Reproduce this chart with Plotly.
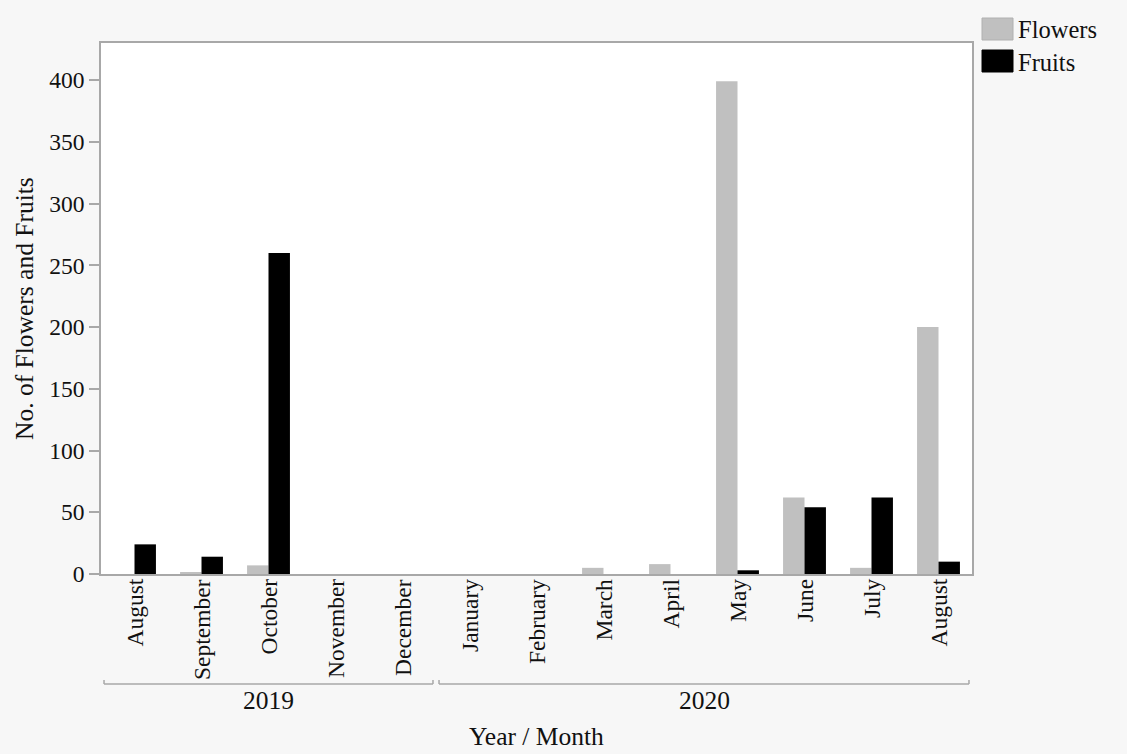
import plotly.graph_objects as go

# Monthly counts, August 2019 - August 2020
years = ["2019"] * 5 + ["2020"] * 8
months = ["August", "September", "October", "November", "December",
          "January", "February", "March", "April", "May", "June", "July", "August"]
flowers = [0, 1, 7, 0, 0, 0, 0, 5, 8, 399, 62, 5, 200]
fruits = [24, 14, 260, 0, 0, 0, 0, 0, 0, 3, 54, 62, 10]
y_ticks = [0, 50, 100, 150, 200, 250, 300, 350, 400]

series_names = ["Flowers", "Fruits"]
series_colors = ["#c0c0c0", "#000000"]
series_lines = ["#b0b0b0", "#000000"]

FONT = "Liberation Serif, Times New Roman, serif"
FS_TICK = 23.5
FS_LEG = 24.5
FS_TITLE = 25.5
TXT = "#111111"
AXIS_COLOR = "#a8a8a8"

W, H = 1127, 754
L, R, T, B = 101, 155, 43, 180
plot_w = W - L - R
plot_h = H - T - B


def px_x(px):
    return (px - L) / plot_w


def px_y(py):
    return (H - B - py) / plot_h


x_idx = list(range(len(months)))

fig = go.Figure()
for name, vals, col in zip(series_names, [flowers, fruits], series_colors):
    fig.add_trace(go.Bar(
        x=x_idx, y=vals, name=name,
        marker=dict(color=col, line=dict(width=0)),
        showlegend=False,
    ))

shapes = []
annotations = []

# Month labels, rotated, hanging just below the axis
for i, m in zip(x_idx, months):
    annotations.append(dict(x=i, y=px_y(577), xref="x", yref="paper",
                            text=m, showarrow=False, textangle=-90,
                            xanchor="center", yanchor="top",
                            font=dict(family=FONT, size=FS_TICK, color=TXT)))

# Year group brackets below the month labels
groups = []
for i, yr in enumerate(years):
    if groups and groups[-1][0] == yr:
        groups[-1][2] = i
    else:
        groups.append([yr, i, i])
pad = 0.045
y_line = px_y(684)
y_tick = px_y(680)
for yr, i0, i1 in groups:
    x0, x1 = i0 - 0.5 + pad, i1 + 0.5 - pad
    for seg in [(x0, y_tick, x0, y_line), (x0, y_line, x1, y_line), (x1, y_line, x1, y_tick)]:
        shapes.append(dict(type="line", xref="x", yref="paper",
                           x0=seg[0], y0=seg[1], x1=seg[2], y1=seg[3],
                           line=dict(color=AXIS_COLOR, width=1.5)))
    annotations.append(dict(x=(x0 + x1) / 2, y=px_y(700), xref="x", yref="paper",
                            text=yr, showarrow=False, xanchor="center", yanchor="middle",
                            font=dict(family=FONT, size=FS_TITLE, color=TXT)))

# Legend swatches and labels
legend_rows = [(18, 40, 30), (50, 72, 62)]
for (top, bot, mid), name, col, lc in zip(legend_rows, series_names, series_colors, series_lines):
    shapes.append(dict(type="rect", xref="paper", yref="paper",
                       x0=px_x(982), x1=px_x(1013), y0=px_y(bot), y1=px_y(top),
                       fillcolor=col, line=dict(color=lc, width=1)))
    annotations.append(dict(x=px_x(1016), y=px_y(mid), xref="paper", yref="paper",
                            text=name, showarrow=False, xanchor="left", yanchor="middle",
                            font=dict(family=FONT, size=FS_LEG, color=TXT)))

# Axis titles
annotations.append(dict(x=0.5, y=px_y(737), xref="paper", yref="paper",
                        text="Year / Month", showarrow=False, xanchor="center", yanchor="middle",
                        font=dict(family=FONT, size=FS_TITLE, color=TXT)))
annotations.append(dict(x=px_x(24), y=px_y(309), xref="paper", yref="paper",
                        text="No. of Flowers and Fruits", showarrow=False, textangle=-90,
                        xanchor="center", yanchor="middle",
                        font=dict(family=FONT, size=FS_TITLE, color=TXT)))

fig.update_layout(
    width=W, height=H,
    margin=dict(l=L, r=R, t=T, b=B, pad=0),
    paper_bgcolor="#f7f7f7",
    plot_bgcolor="#ffffff",
    barmode="group",
    bargap=0.36,
    bargroupgap=0,
    font=dict(family=FONT, size=FS_TICK, color=TXT),
    shapes=shapes,
    annotations=annotations,
    showlegend=False,
)
fig.update_xaxes(
    range=[-0.5, len(months) - 0.5],
    showticklabels=False, ticks="", showgrid=False, zeroline=False,
    showline=True, linecolor=AXIS_COLOR, linewidth=1.5, mirror=True,
)
fig.update_yaxes(
    range=[0, 430],
    tickmode="array", tickvals=y_ticks,
    ticks="outside", ticklen=10, tickcolor=AXIS_COLOR, tickwidth=1.5,
    showgrid=False, zeroline=False,
    showline=True, linecolor=AXIS_COLOR, linewidth=1.5, mirror=True,
    tickfont=dict(family=FONT, size=FS_TICK, color=TXT),
)

fig.write_html("out.html")
